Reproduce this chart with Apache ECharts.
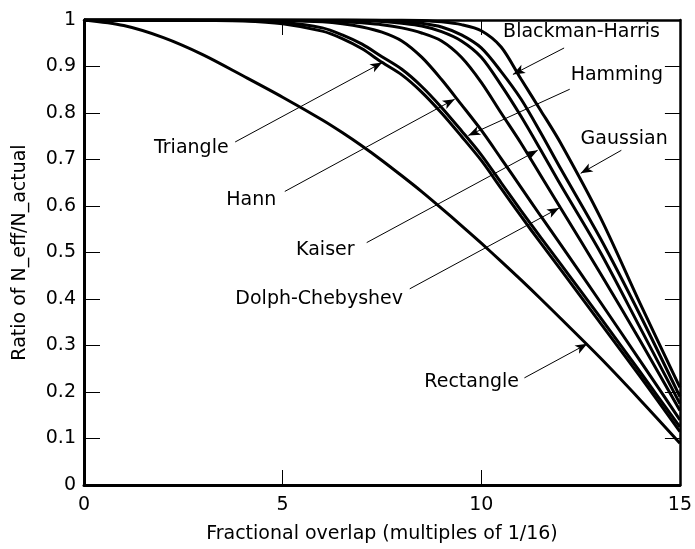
<!DOCTYPE html>
<html>
<head>
<meta charset="utf-8">
<script src="https://cdn.jsdelivr.net/npm/echarts@6/dist/echarts.min.js"></script>
<style>
html,body{margin:0;padding:0;background:#fff;}
#chart{width:695px;height:549px;}
</style>
</head>
<body>
<div id="chart"></div>
<script>
// ---- data (x in multiples of 1/16) ----
const xValues = [0,1,2,3,4,5,6,6.5,7,7.5,8,8.5,9,9.5,10,10.5,11,11.5,12,13,14,15];
const rectangle = [1.000,0.988,0.962,0.925,0.880,0.834,0.785,0.758,0.729,0.698,0.665,0.631,0.595,0.558,0.520,0.481,0.441,0.400,0.358,0.273,0.183,0.090];
const triangle  = [1,1,1,0.999,0.998,0.992,0.976,0.960,0.938,0.909,0.882,0.845,0.800,0.750,0.698,0.638,0.578,0.520,0.463,0.348,0.233,0.115];
const hamming   = [1,1,1,1,0.999,0.995,0.983,0.968,0.948,0.921,0.894,0.857,0.812,0.762,0.710,0.650,0.590,0.532,0.475,0.360,0.243,0.125];
const hann      = [1,1,1,1,1,0.999,0.996,0.992,0.985,0.974,0.955,0.920,0.872,0.818,0.763,0.702,0.640,0.578,0.517,0.393,0.267,0.140];
const dolphCheb = [1,1,1,1,1,1,0.999,0.997,0.994,0.990,0.983,0.972,0.955,0.920,0.866,0.800,0.735,0.665,0.595,0.455,0.310,0.160];
const kaiser    = [1,1,1,1,1,1,1,1,0.999,0.997,0.993,0.987,0.975,0.955,0.920,0.860,0.793,0.720,0.645,0.500,0.338,0.175];
const blackmanHarris = [1,1,1,1,1,1,1,1,1,0.999,0.997,0.993,0.985,0.968,0.940,0.889,0.830,0.757,0.680,0.530,0.365,0.190];
const gaussian  = [1,1,1,1,1,1,1,1,1,1,1,0.999,0.996,0.990,0.977,0.942,0.873,0.805,0.735,0.575,0.390,0.210];

const seriesNames = ['Rectangle','Triangle','Hamming','Hann','Dolph-Chebyshev','Kaiser','Blackman-Harris','Gaussian'];
const seriesValues = [rectangle, triangle, hamming, hann, dolphCheb, kaiser, blackmanHarris, gaussian];

// ---- annotations (data coordinates) ----
const labelNames = ['Triangle','Hann','Kaiser','Dolph-Chebyshev','Rectangle','Blackman-Harris','Hamming','Gaussian'];
const labelAt    = [[3.64,0.7255],[4.84,0.6134],[6.81,0.5049],[8.03,0.4006],[10.95,0.2213],[10.55,0.9745],[12.25,0.8809],[12.50,0.7447]];
const labelSide  = ['left','left','left','left','left','right','right','right'];
const arrowFrom  = [[3.805,0.7377],[5.054,0.6313],[7.116,0.5213],[8.20,0.4219],[11.086,0.2304],[12.085,0.9398],[12.227,0.8511],[13.526,0.7198]];
const arrowTo    = [[7.508,0.9085],[9.331,0.8298],[11.42,0.7198],[11.96,0.5957],[12.669,0.3036],[10.797,0.883],[9.673,0.7517],[12.502,0.6702]];

const xTicks = [0,5,10,15];
const yTicks = [0,0.1,0.2,0.3,0.4,0.5,0.6,0.7,0.8,0.9,1];

const FONT = 'DejaVu Sans';
const chart = echarts.init(document.getElementById('chart'), null, {renderer:'canvas'});

const lineSeries = seriesNames.map((name, i) => ({
  name: name,
  type: 'line',
  data: xValues.map((x, j) => [x, seriesValues[i][j]]),
  showSymbol: false,
  smooth: 0.3,
  lineStyle: {color:'#000', width:3},
  z: 3,
  silent: true
}));

const labelSeries = {
  type: 'scatter',
  symbolSize: 0,
  silent: true,
  z: 5,
  itemStyle: {opacity: 1, color:'#000'},
  data: labelNames.map((n, i) => ({
    value: labelAt[i],
    name: n,
    label: {
      show: true, position: labelSide[i], distance: 0, opacity: 1,
      formatter: n, color:'#000', fontSize:19, fontFamily: FONT
    }
  })),
  markLine: {
    silent: true,
    symbol: ['none','arrow'],
    symbolSize: [7,12],
    label: {show:false},
    lineStyle: {color:'#000', width:1, type:'solid', opacity:1},
    data: arrowFrom.map((p, i) => [{coord: p}, {coord: arrowTo[i]}]),
    animation: false
  }
};

const axisTextStyle = {color:'#000', fontSize:19, fontFamily: FONT};

chart.setOption({
  animation: false,
  backgroundColor: '#fff',
  grid: {left:84, right:10, top:20, bottom:59, containLabel:false},
  xAxis: [{
    type:'value', min:xTicks[0], max:xTicks[xTicks.length-1], interval:5, position:'bottom',
    axisLine:{show:true, onZero:false, lineStyle:{color:'#000', width:3}},
    axisTick:{show:true, inside:true, length:15, lineStyle:{color:'#000', width:1}},
    axisLabel:Object.assign({margin:11}, axisTextStyle),
    splitLine:{show:false},
    name:'Fractional overlap (multiples of 1/16)', nameLocation:'middle', nameGap:40,
    nameTextStyle: axisTextStyle
  },{
    type:'value', min:xTicks[0], max:xTicks[xTicks.length-1], interval:5, position:'top',
    axisLine:{show:true, onZero:false, lineStyle:{color:'#000', width:2.5}},
    axisTick:{show:true, inside:true, length:15, lineStyle:{color:'#000', width:1}},
    axisLabel:{show:false}, splitLine:{show:false}
  }],
  yAxis: [{
    type:'value', min:yTicks[0], max:yTicks[yTicks.length-1], interval:0.1, position:'left',
    axisLine:{show:true, onZero:false, lineStyle:{color:'#000', width:3}},
    axisTick:{show:true, inside:true, length:16, lineStyle:{color:'#000', width:1}},
    axisLabel:Object.assign({margin:8}, axisTextStyle),
    splitLine:{show:false},
    name:'Ratio of N_eff/N_actual', nameLocation:'middle', nameGap:54,
    nameTextStyle: axisTextStyle
  },{
    type:'value', min:yTicks[0], max:yTicks[yTicks.length-1], interval:0.1, position:'right',
    axisLine:{show:true, onZero:false, lineStyle:{color:'#000', width:2.5}},
    axisTick:{show:true, inside:true, length:15, lineStyle:{color:'#000', width:1}},
    axisLabel:{show:false}, splitLine:{show:false}
  }],
  series: lineSeries.concat([labelSeries])
});
</script>
</body>
</html>
